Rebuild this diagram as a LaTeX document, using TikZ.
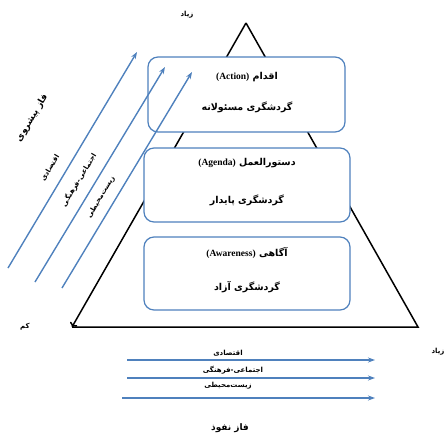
\documentclass[tikz,border=0pt]{standalone}
\usepackage{fontspec}
\setmainfont{Liberation Serif}
\usetikzlibrary{arrows.meta}
\newfontfamily\arabicfont[Script=Arabic]{DejaVu Sans}
\TeXXeTstate=1
\definecolor{stageblue}{RGB}{79,129,189}
\newcommand{\fa}[1]{{\arabicfont\bfseries\beginR #1\endR}}
\newcommand{\en}[1]{\beginL{\rmfamily\bfseries #1}\endL}

\begin{document}
\begin{tikzpicture}[x=1pt,y=-1pt]
	\tikzset{stage/.style={draw=stageblue,line width=1.2pt,rounded corners=10pt,fill=white,inner sep=0pt},
		flow/.style={stageblue,line width=1.4pt,-{Stealth[length=7pt,width=5pt]}},
		lbl/.style={font=\fontsize{7}{8}\selectfont,inner sep=0.5pt},
		boxtxt/.style={font=\fontsize{9.5}{10}\selectfont,inner sep=1pt}}
	\useasboundingbox (0,0) rectangle (446,439);
	
	% pyramid
	\coordinate (apex) at (246,23);
	\coordinate (low) at (72,327);
	\coordinate (high) at (418,327);
	\draw[line width=1.5pt] (low) -- (high) -- (apex);
	\draw[line width=1.5pt,-{To[length=4pt]}] (apex) -- (low);
	
	% the three stages
	\node[stage,minimum width=197pt,minimum height=75pt] (action) at (246.5,94.5) {};
	\node[stage,minimum width=206pt,minimum height=74pt] (agenda) at (247,185) {};
	\node[stage,minimum width=206pt,minimum height=73pt] (awareness) at (247,273.5) {};
	
	\node[boxtxt] (actiont) at (247,77) {\fa{اقدام \en{(Action)}}};
	\node[boxtxt] (actions) at (247,107) {\fa{گردشگری مسئولانه}};
	\node[boxtxt] (agendat) at (247,163) {\fa{دستورالعمل \en{(Agenda)}}};
	\node[boxtxt] (agendas) at (247,200) {\fa{گردشگری پایدار}};
	\node[boxtxt] (awaret) at (247,253) {\fa{آگاهی \en{(Awareness)}}};
	\node[boxtxt] (awares) at (247,287) {\fa{گردشگری آزاد}};
	
	% progress phase (diagonal)
	\coordinate (p1s) at (8,268);   \coordinate (p1e) at (137,52);
	\coordinate (p2s) at (35,282);  \coordinate (p2e) at (165,67);
	\coordinate (p3s) at (62,288);  \coordinate (p3e) at (192,72);
	\draw[flow] (p1s) -- (p1e);
	\draw[flow] (p2s) -- (p2e);
	\draw[flow] (p3s) -- (p3e);
	
	\node[lbl,rotate=59,font=\fontsize{9}{10}\selectfont] (progress) at (32,118) {\fa{فاز پیشروی}};
	\node[lbl,rotate=59] (econ) at (50,168) {\fa{اقتصادی}};
	\node[lbl,rotate=59] (social) at (79,180) {\fa{اجتماعی-فرهنگی}};
	\node[lbl,rotate=59] (env) at (101,197) {\fa{زیست‌محیطی}};
	
	% penetration phase (horizontal)
	\coordinate (h1s) at (127,360); \coordinate (h1e) at (375,360);
	\coordinate (h2s) at (127,378); \coordinate (h2e) at (375,378);
	\coordinate (h3s) at (122,398); \coordinate (h3e) at (375,398);
	\draw[flow] (h1s) -- (h1e);
	\draw[flow] (h2s) -- (h2e);
	\draw[flow] (h3s) -- (h3e);
	
	\node[lbl] (econh) at (228,353) {\fa{اقتصادی}};
	\node[lbl] (socialh) at (233,370) {\fa{اجتماعی-فرهنگی}};
	\node[lbl] (envh) at (228,386) {\fa{زیست‌محیطی}};
	\node[lbl,font=\fontsize{9}{10}\selectfont] (penetration) at (230,428) {\fa{فاز نفوذ}};
	
	% scale ends
	\node[lbl] (muchtop) at (187,15) {\fa{زیاد}};
	\node[lbl] (muchright) at (438,352) {\fa{زیاد}};
	\node[lbl] (little) at (25,327) {\fa{کم}};
\end{tikzpicture}
\end{document}
